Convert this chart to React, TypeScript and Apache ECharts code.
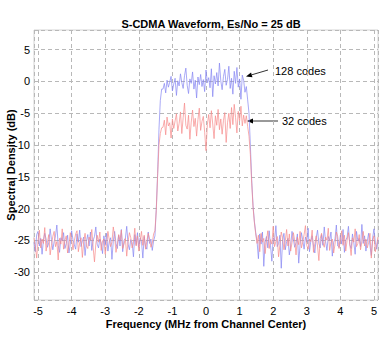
import React, { useEffect, useRef } from "react";
import * as echarts from "echarts";

const TITLE = "S-CDMA Waveform, Es/No = 25 dB";
const X_NAME = "Frequency (MHz from Channel Center)";
const Y_NAME = "Spectral Density (dB)";
const FREQ_START = -5.12;
const FREQ_STEP = 0.04;

// 128 codes (blue)
const blueNoiseLeft = [
  -25.3,-26.8,-24.1,-23.6,-25.9,-24.7,-27.2,-25.0,-23.9,-24.8,
  -26.1,-25.4,-23.2,-24.9,-26.5,-25.2,-24.3,-22.6,-25.8,-26.9,
  -24.6,-25.1,-23.8,-26.3,-25.5,-24.2,-27.0,-25.6,-23.5,-24.9,
  -25.7,-26.4,-24.0,-25.3,-23.4,-26.0,-25.1,-24.5,-27.4,-25.2,
  -24.1,-25.9,-23.7,-26.6,-25.0,-24.4,-22.9,-25.6,-26.2,-24.8,
  -25.4,-27.1,-24.3,-25.8,-23.9,-26.7,-25.2,-24.6,-28.0,-25.1,
  -23.6,-25.5,-26.3,-24.2,-25.9,-23.3,-26.8,-25.0,-24.7,-22.8,
  -25.6,-26.5,-24.9,-25.3,-27.6,-24.1,-25.7,-23.8,-26.1,-24.6,
  -25.2,-27.8,-24.4,-25.9,-26.4,-23.7,-25.5,-24.8,-26.6,-25.1,
  -24.3,
];
const blueRise = [-20.0, -14.5, -7.5, -3.0, -1.2];
const blueBand = [
  -1.2,-0.3,-1.8,0.2,-0.9,-0.1,0.8,-1.5,-0.4,0.5,
  -2.2,0.1,-0.7,1.2,-0.2,-1.1,0.9,2.1,-0.6,-1.9,
  0.4,-0.3,1.5,-1.2,0.2,-2.6,0.7,-0.5,1.1,-0.8,
  0.3,-1.6,1.8,-0.2,0.6,-1.0,2.0,-2.4,0.9,-0.4,
  1.4,-0.7,2.9,0.1,-1.3,0.8,1.9,-0.6,0.3,2.4,
  -1.1,0.5,-2.0,1.6,-0.3,2.2,-0.9,0.4,-2.8,1.0,
  0.2,-1.7,-0.8,-2.9,-5.0,
];
const blueFall = [-10.0, -15.5, -19.5, -22.0, -23.8];
const blueNoiseRight = [
  -25.2,-27.9,-24.0,-25.6,-23.7,-29.1,-25.3,-24.4,-26.2,-23.5,
  -25.8,-28.3,-24.6,-25.1,-22.7,-26.0,-25.5,-24.2,-29.4,-25.0,
  -23.9,-26.5,-25.2,-24.7,-27.3,-25.9,-23.6,-24.8,-26.1,-25.4,
  -24.0,-28.6,-25.7,-23.8,-25.0,-26.4,-24.5,-25.3,-23.1,-26.8,
  -25.1,-24.3,-25.9,-27.0,-24.6,-23.4,-25.5,-26.2,-24.1,-25.8,
  -22.9,-25.2,-26.6,-24.4,-25.0,-23.7,-27.5,-25.3,-24.8,-22.6,
  -25.9,-26.1,-24.2,-25.6,-23.3,-26.9,-25.0,-24.5,-22.8,-25.7,
  -26.3,-24.0,-25.4,-27.2,-23.6,-25.1,-24.7,-26.0,-22.5,-25.5,
  -24.3,-26.7,-25.2,-23.9,-25.8,-27.4,-24.6,-23.2,-25.3,-26.4,
  -24.9,
];

// 32 codes (red)
const redNoiseLeft = [
  -24.6,-25.9,-27.8,-25.1,-23.4,-26.2,-24.8,-25.5,-23.0,-26.7,
  -25.3,-24.1,-27.3,-25.8,-24.4,-23.6,-26.0,-25.2,-28.1,-24.7,
  -25.6,-23.2,-26.4,-25.0,-24.3,-27.0,-25.7,-23.8,-24.9,-26.5,
  -25.1,-24.0,-23.5,-26.8,-25.4,-24.6,-27.7,-25.2,-23.9,-25.9,
  -26.3,-24.5,-25.0,-23.3,-26.1,-28.4,-25.6,-24.2,-25.3,-23.7,
  -26.6,-25.1,-24.8,-27.2,-25.5,-23.6,-24.9,-26.0,-25.3,-22.9,
  -24.4,-26.9,-25.7,-24.1,-25.0,-23.4,-26.3,-25.6,-24.7,-27.5,
  -25.2,-23.8,-24.6,-26.2,-25.4,-23.1,-25.9,-24.3,-26.7,-25.0,
  -23.6,-25.8,-24.2,-26.4,-25.1,-23.9,-24.8,-26.1,-25.5,-24.0,
  -23.5,
];
const redRise = [-20.3, -14.8, -10.0, -8.2, -7.3];
const redBand = [
  -7.2,-6.1,-8.4,-5.6,-7.0,-6.5,-8.9,-5.9,-7.4,-6.2,
  -5.1,-7.8,-6.6,-4.8,-8.2,-5.7,-3.4,-6.9,-7.5,-5.3,
  -9.1,-6.4,-4.5,-7.1,-5.8,-8.6,-6.0,-4.2,-7.7,-6.3,
  -5.5,-8.0,-10.9,-6.8,-5.2,-7.3,-4.6,-6.7,-9.0,-5.4,
  -6.9,-4.4,-7.6,-5.9,-8.3,-6.1,-4.9,-9.6,-6.5,-5.0,
  -7.4,-4.1,-6.8,-3.6,-5.7,-8.1,-4.7,-6.2,-3.9,-7.0,
  -5.3,-6.6,-5.4,-7.1,-8.6,
];
const redFall = [-11.5, -16.0, -19.8, -22.2, -24.0];
const redNoiseRight = [
  -25.5,-24.2,-26.8,-23.9,-25.3,-24.7,-27.1,-25.0,-23.5,-26.3,
  -24.9,-25.6,-22.8,-26.0,-25.2,-24.4,-27.6,-25.8,-23.7,-24.6,
  -26.5,-25.1,-23.3,-25.9,-24.0,-26.7,-25.4,-23.8,-25.0,-27.3,
  -24.5,-25.7,-23.6,-26.2,-25.3,-24.1,-22.7,-25.8,-26.4,-24.8,
  -25.2,-23.4,-26.9,-25.5,-24.3,-25.9,-28.2,-24.7,-23.9,-25.4,
  -26.1,-24.5,-25.0,-23.1,-26.6,-25.3,-24.8,-27.0,-25.6,-23.7,
  -24.4,-26.3,-25.1,-23.5,-25.8,-24.2,-26.7,-25.0,-23.8,-25.6,
  -27.4,-24.6,-25.3,-23.2,-26.0,-25.5,-24.1,-26.5,-25.2,-23.6,
  -25.9,-24.8,-26.2,-25.4,-23.9,-27.8,-25.1,-24.3,-26.8,-25.7,
  -24.5,
];

const blueValues = [...blueNoiseLeft, ...blueRise, ...blueBand, ...blueFall, ...blueNoiseRight];
const redValues = [...redNoiseLeft, ...redRise, ...redBand, ...redFall, ...redNoiseRight];

const toPairs = (vals: number[]) =>
  vals.map((v, i) => [Number((FREQ_START + i * FREQ_STEP).toFixed(2)), v]);

const FONT = "Liberation Sans, Arial, Helvetica, sans-serif";

export default function App() {
  const ref = useRef<HTMLDivElement>(null);
  useEffect(() => {
    if (!ref.current) return;
    const chart = echarts.init(ref.current, null, { renderer: "svg" });
    chart.setOption({
      animation: false,
      backgroundColor: "#ffffff",
      title: {
        text: TITLE,
        left: 206,
        top: 13,
        textAlign: "center",
        textStyle: { fontFamily: FONT, fontSize: 11, fontWeight: "bold", color: "#000" },
      },
      grid: {
        left: 34,
        right: 6,
        top: 30,
        bottom: 43,
        containLabel: false,
        outerBoundsMode: "none",
        show: true,
        borderColor: "#d4d4d4",
        borderWidth: 1,
      },
      xAxis: {
        type: "value",
        min: -5.12,
        max: 5.12,
        splitNumber: 10,
        name: X_NAME,
        nameLocation: "middle",
        nameGap: 18,
        nameMoveOverlap: false,
        nameTextStyle: { fontFamily: FONT, fontSize: 11, fontWeight: "bold", color: "#000" },
        axisLine: { show: false },
        axisTick: { show: false },
        axisLabel: {
          showMinLabel: false,
          showMaxLabel: false,
          fontFamily: FONT,
          fontSize: 11,
          color: "#000",
          margin: 5,
        },
        splitLine: { show: true, lineStyle: { color: "#b8b8b8", type: [4, 3], width: 1 } },
      },
      yAxis: {
        type: "value",
        min: -34.4,
        max: 8.1,
        splitNumber: 8,
        name: Y_NAME,
        nameLocation: "middle",
        nameGap: 18,
        nameMoveOverlap: false,
        nameTextStyle: { fontFamily: FONT, fontSize: 11, fontWeight: "bold", color: "#000" },
        axisLine: { show: false },
        axisTick: { show: false },
        axisLabel: {
          showMinLabel: false,
          showMaxLabel: false,
          fontFamily: FONT,
          fontSize: 11,
          color: "#000",
          margin: 4,
        },
        splitLine: { show: true, lineStyle: { color: "#b8b8b8", type: [4, 3], width: 1 } },
      },
      series: [
        {
          name: "128 codes",
          type: "line",
          data: toPairs(blueValues),
          showSymbol: false,
          lineStyle: { color: "#8585f2", width: 0.7 },
        },
        {
          name: "32 codes",
          type: "line",
          data: toPairs(redValues),
          showSymbol: false,
          lineStyle: { color: "#f68a8a", width: 0.7 },
        },
      ],
      graphic: [
        {
          type: "text",
          x: 275,
          y: 71,
          style: { text: "128 codes", font: `11px ${FONT}`, fill: "#000", verticalAlign: "middle" },
        },
        {
          type: "text",
          x: 282,
          y: 121,
          style: { text: "32 codes", font: `11px ${FONT}`, fill: "#000", verticalAlign: "middle" },
        },
        {
          type: "line",
          shape: { x1: 268, y1: 70, x2: 251.75, y2: 74.8 },
          style: { stroke: "#000", lineWidth: 0.8 },
        },
        {
          type: "polygon",
          shape: { points: [[246, 76.5], [252.46, 77.2], [251.04, 72.4]] },
          style: { fill: "#000" },
        },
        {
          type: "line",
          shape: { x1: 278, y1: 121, x2: 253, y2: 121 },
          style: { stroke: "#000", lineWidth: 0.8 },
        },
        {
          type: "polygon",
          shape: { points: [[247, 121], [253, 118.5], [253, 123.5]] },
          style: { fill: "#000" },
        },
      ],
    });
    return () => chart.dispose();
  }, []);
  return (
    <div
      ref={ref}
      style={{ position: "fixed", left: 0, top: 0, width: 384, height: 343 }}
    />
  );
}
